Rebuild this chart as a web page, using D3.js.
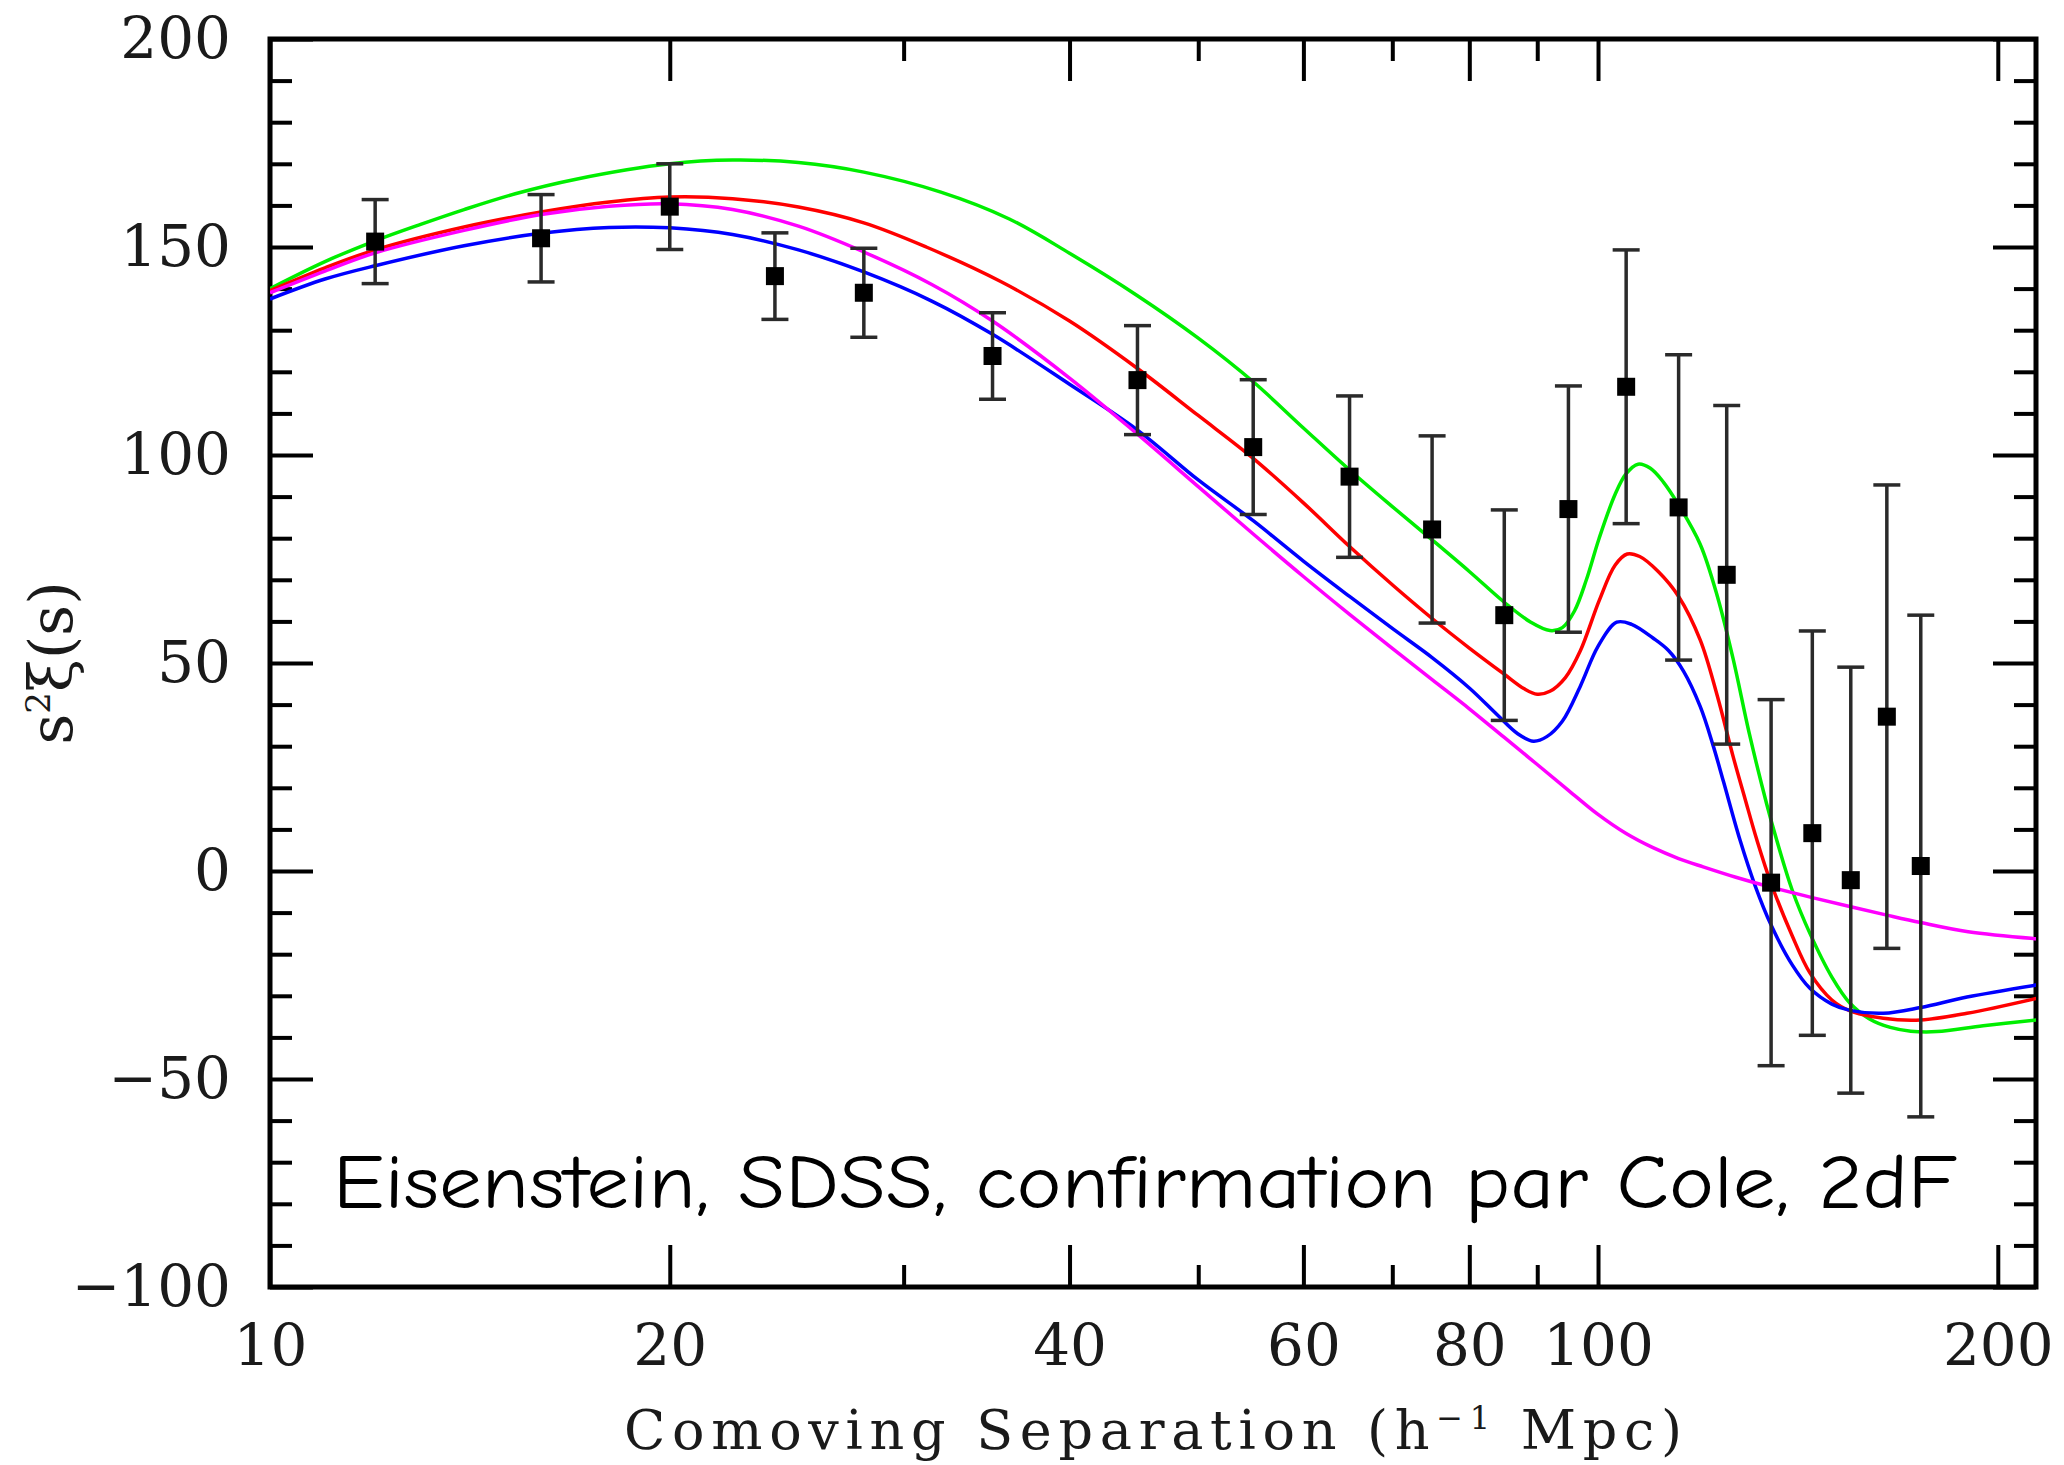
<!DOCTYPE html>
<meta charset="utf-8">
<script src="https://d3js.org/d3.v7.min.js"></script>
<style>
  body { margin: 0; background: #fff; }
</style>
<svg id="xi_plot" width="2064" height="1465" style="background:#fff;"></svg>

<script>

// measured correlation function points (s in h^-1 Mpc)
var sepBins  = [12, 16, 20, 24, 28, 35, 45, 55, 65, 75, 85, 95, 105, 115, 125, 135, 145, 155, 165, 175];
var xiValues = [151.3, 152.1, 159.7, 143.0, 139.0, 123.8, 118.0, 101.9, 94.8, 82.1, 61.5, 87.0, 116.4, 87.4, 71.2, -2.8, 9.1, -2.2, 37.1, 1.2];
var xiErrors = [10.1, 10.5, 10.3, 10.4, 10.7, 10.4, 13.1, 16.2, 19.4, 22.5, 25.3, 29.6, 32.9, 36.7, 40.7, 44.0, 48.6, 51.2, 55.7, 60.3];

// model curves, [s, s^2 xi]
var greenCurve = [[10,140.0],[11,146.5],[12,151.5],[13,155.5],[14,159.0],[15.3,162.8],[17,166.3],[20,170.0],[22.3,170.9],[25,170.3],[28,168.0],[32,163.2],[36,156.8],[40,148.5],[45,138.3],[50,128.1],[55,117.6],[60,106.5],[65,96.4],[70,87.6],[75,79.6],[80,72.0],[85,64.6],[89,59.8],[92,57.8],[94,58.5],[96,62.5],[98,70],[100.2,80],[103,90.5],[105,95.5],[107.2,97.8],[109.5,96.8],[112,93.5],[115,88.0],[119.4,78.5],[123,66.0],[126.4,51],[130,33],[134,16],[136.3,7.5],[140,-4.5],[144.4,-15],[150,-25.5],[154.8,-31.8],[160,-35.5],[166,-37.6],[172,-38.5],[180,-38.6],[195,-37.2],[214,-35.8]];
var redCurve   = [[10,139.5],[11,145],[12,149.3],[14,154.8],[16,158.4],[18,160.8],[20,162.0],[22.3,161.6],[25,159.6],[28,155.8],[31.2,150.0],[35.5,141.7],[40,132.2],[45,120.8],[50,109.5],[55,99.2],[60,88.5],[65,78.0],[70,68.8],[75,60.7],[80,53.6],[85,47.3],[88,43.8],[90,42.5],[92,43.2],[94.5,46.5],[97,53],[100.2,65],[103,73.5],[105.2,76.2],[107.5,75.6],[111,72.0],[115,66.0],[119.4,55.5],[123,42],[126.4,27.5],[129,17.5],[131.7,7.5],[135,-3],[140,-15.5],[144.4,-24.5],[150,-31.0],[154.8,-33.6],[164,-35.4],[175,-35.8],[189.6,-34.2],[214,-30.6]];
var blueCurve  = [[10,137.5],[11,142.3],[12,145.5],[14,150.3],[16,153.3],[18,154.7],[20,154.6],[22.3,153.0],[25,149.3],[28,144.0],[31.5,137.0],[35,129.0],[40,117.0],[45,106.0],[50,94.0],[55,84.2],[60,74.5],[65,66.0],[70,58.3],[75,51.3],[80,44.0],[84,37.5],[87,33.0],[89.4,31.2],[91.5,32.3],[94,36],[97,44.5],[100,54],[103.3,59.8],[106,59.3],[110,56.0],[113,53.0],[116,48.0],[119.4,39.5],[122,30.5],[124.3,21.5],[127.9,7.5],[131.3,-3.5],[135,-13.0],[140,-22.5],[144.4,-28.2],[150,-32],[154.8,-33.5],[164,-34.2],[175,-32.8],[189.6,-30.3],[214,-27.4]];
var magentaCurve = [[10,139.0],[11,144.2],[12,148.6],[14,154.0],[16,157.8],[18,159.8],[20,160.4],[22.3,159.0],[25,155.0],[28,148.8],[31.5,141.0],[35,132.2],[40,118.5],[45,105.0],[50,92.4],[55,81.0],[60,70.8],[65,61.7],[70,53.5],[75,46.0],[80,39.0],[85,32.1],[90,25.6],[95,19.4],[100,13.6],[105,9.0],[110,5.6],[115,3.0],[120,1.0],[127,-1.5],[135,-3.9],[145,-6.4],[155,-8.6],[165,-10.6],[175,-12.4],[190,-14.6],[214,-16.3]];

var curveColors = ["#00ee00", "#ff0000", "#0000ff", "#ff00ff"];

// axis ticks
var xMajor = [10, 20, 40, 60, 80, 100, 200];
var xMinor = [30, 50, 70, 90];
var yMajor = [-100, -50, 0, 50, 100, 150, 200];
var yMinor = d3.range(-100, 201, 10).filter(function(v) { return v % 50 != 0; });

var plot = {left: 270, right: 2036, top: 39, bottom: 1287};

var svg = d3.select("#xi_plot");

var x = d3.scaleLog()
  .domain([10, 213.7])
  .range([plot.left, plot.right]);

var y = d3.scaleLinear()
  .domain([-100, 200])
  .range([plot.bottom, plot.top]);

// clip so curves stop at the frame
svg.append("defs").append("clipPath")
    .attr("id", "clip")
  .append("rect")
    .attr("x", plot.left)
    .attr("y", plot.top)
    .attr("width", plot.right - plot.left)
    .attr("height", plot.bottom - plot.top);

var fmtMinus = function(d) { return d < 0 ? "\u2212" + Math.abs(d) : "" + d; };

// bottom axis with labels, ticks pointing inward
svg.append("g")
  .attr("class", "axis")
  .attr("transform", "translate(0," + plot.bottom + ")")
  .call(d3.axisBottom(x).tickValues(xMajor).tickSize(-42).tickPadding(37).tickFormat(function(d) { return d; }));
svg.append("g")
  .attr("class", "axis")
  .attr("transform", "translate(0," + plot.bottom + ")")
  .call(d3.axisBottom(x).tickValues(xMinor).tickSize(-22).tickFormat(""));

// top axis (no labels)
svg.append("g")
  .attr("class", "axis")
  .attr("transform", "translate(0," + plot.top + ")")
  .call(d3.axisTop(x).tickValues(xMajor).tickSize(-42).tickFormat(""));
svg.append("g")
  .attr("class", "axis")
  .attr("transform", "translate(0," + plot.top + ")")
  .call(d3.axisTop(x).tickValues(xMinor).tickSize(-22).tickFormat(""));

// left axis with labels
svg.append("g")
  .attr("class", "axis")
  .attr("transform", "translate(" + plot.left + ",0)")
  .call(d3.axisLeft(y).tickValues(yMajor).tickSize(-43).tickPadding(39).tickFormat(fmtMinus));
svg.append("g")
  .attr("class", "axis")
  .attr("transform", "translate(" + plot.left + ",0)")
  .call(d3.axisLeft(y).tickValues(yMinor).tickSize(-22).tickFormat(""));

// right axis (no labels)
svg.append("g")
  .attr("class", "axis")
  .attr("transform", "translate(" + plot.right + ",0)")
  .call(d3.axisRight(y).tickValues(yMajor).tickSize(-43).tickFormat(""));
svg.append("g")
  .attr("class", "axis")
  .attr("transform", "translate(" + plot.right + ",0)")
  .call(d3.axisRight(y).tickValues(yMinor).tickSize(-22).tickFormat(""));

svg.selectAll(".axis .domain").remove();
svg.selectAll(".axis line")
  .attr("stroke", "#000")
  .attr("stroke-width", 4);
svg.selectAll(".axis text")
  .attr("fill", "#1a1a1a")
  .style("font-family", "'DejaVu Serif', serif")
  .style("font-size", "58px");

// frame
svg.append("rect")
  .attr("x", plot.left)
  .attr("y", plot.top)
  .attr("width", plot.right - plot.left)
  .attr("height", plot.bottom - plot.top)
  .attr("fill", "none")
  .attr("stroke", "#000")
  .attr("stroke-width", 5);

// model lines
var line = d3.line()
  .x(function(d) { return x(d[0]); })
  .y(function(d) { return y(d[1]); })
  .curve(d3.curveCatmullRom.alpha(0.5));

var curves = svg.append("g").attr("clip-path", "url(#clip)");
[greenCurve, redCurve, blueCurve, magentaCurve].forEach(function(c, i) {
  curves.append("path")
    .datum(c)
    .attr("fill", "none")
    .attr("stroke", curveColors[i])
    .attr("stroke-width", 3.5)
    .attr("d", line);
});

// data points with error bars
var points = sepBins.map(function(s, i) { return {s: s, v: xiValues[i], e: xiErrors[i]}; });

var bars = svg.append("g").attr("stroke", "#2a2a2a").attr("stroke-width", 3.5);
bars.selectAll(".stem")
  .data(points)
  .enter().append("line")
    .attr("x1", function(d) { return x(d.s); })
    .attr("x2", function(d) { return x(d.s); })
    .attr("y1", function(d) { return y(d.v - d.e); })
    .attr("y2", function(d) { return y(d.v + d.e); });
bars.selectAll(".capTop")
  .data(points)
  .enter().append("line")
    .attr("x1", function(d) { return x(d.s) - 13.5; })
    .attr("x2", function(d) { return x(d.s) + 13.5; })
    .attr("y1", function(d) { return y(d.v + d.e); })
    .attr("y2", function(d) { return y(d.v + d.e); });
bars.selectAll(".capBot")
  .data(points)
  .enter().append("line")
    .attr("x1", function(d) { return x(d.s) - 13.5; })
    .attr("x2", function(d) { return x(d.s) + 13.5; })
    .attr("y1", function(d) { return y(d.v - d.e); })
    .attr("y2", function(d) { return y(d.v - d.e); });

svg.append("g").selectAll("rect")
  .data(points)
  .enter().append("rect")
    .attr("x", function(d) { return x(d.s) - 9; })
    .attr("y", function(d) { return y(d.v) - 9; })
    .attr("width", 18)
    .attr("height", 18)
    .attr("fill", "#000");

// axis titles
var xTitle = svg.append("text")
  .attr("x", (plot.left + plot.right) / 2)
  .attr("y", 1449)
  .attr("text-anchor", "middle")
  .attr("textLength", 1058)
  .attr("lengthAdjust", "spacing")
  .attr("fill", "#1a1a1a")
  .style("font-family", "'DejaVu Serif', serif")
  .style("font-size", "54px");
xTitle.append("tspan").text("Comoving Separation (h");
xTitle.append("tspan").attr("dy", -20).style("font-size", "32px").text("\u22121");
xTitle.append("tspan").attr("dy", 20).text(" Mpc)");

svg.append("text")
  .attr("transform", "translate(72," + ((plot.top + plot.bottom) / 2) + ") rotate(-90)")
  .attr("text-anchor", "middle")
  .attr("fill", "#1a1a1a")
  .style("font-family", "'DejaVu Serif', serif")
  .style("font-size", "60px")
  .html("s<tspan dy='-22' font-size='34px'>2</tspan><tspan dy='22'>\u03BE(s)</tspan>");

// annotation
svg.append("text")
  .attr("x", 333)
  .attr("y", 1208)
  .attr("textLength", 1624)
  .attr("lengthAdjust", "spacingAndGlyphs")
  .attr("fill", "#000")
  .style("font-family", "'Comic Sans MS', 'Comic Neue', Lato, sans-serif")
  .style("font-size", "76px")
  .text("Eisenstein, SDSS, confirmation par Cole, 2dF");

</script>
